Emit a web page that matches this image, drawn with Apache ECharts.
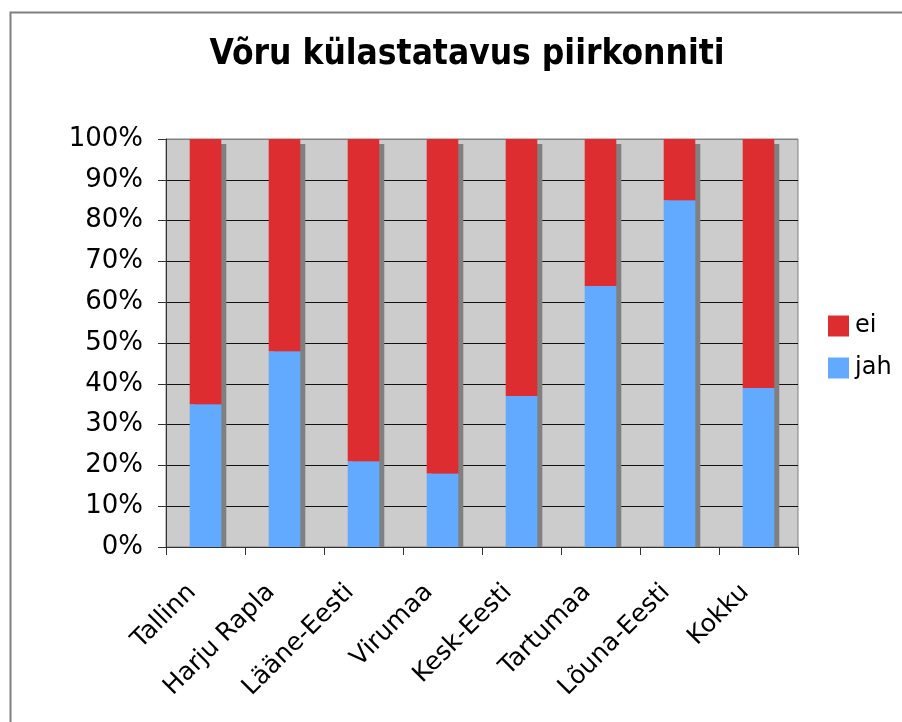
<!DOCTYPE html>
<html>
<head>
<meta charset="utf-8">
<script src="https://cdn.jsdelivr.net/npm/echarts@6/dist/echarts.min.js"></script>
<style>html,body{margin:0;padding:0;background:#fff}#c{width:902px;height:722px}</style>
</head>
<body>
<div id="c"></div>
<script>
const categories = ['Tallinn', 'Harju Rapla', 'Lääne-Eesti', 'Virumaa', 'Kesk-Eesti', 'Tartumaa', 'Lõuna-Eesti', 'Kokku'];
const jah = [35, 48, 21, 18, 37, 64, 85, 39];
const ei = [65, 52, 79, 82, 63, 36, 15, 61];
const totals = [100, 100, 100, 100, 100, 100, 100, 100];
const yTicks = [0, 10, 20, 30, 40, 50, 60, 70, 80, 90, 100];

const chart = echarts.init(document.getElementById('c'), null, {renderer: 'canvas'});
const font = 'DejaVu Sans, Verdana, sans-serif';
const barRatio = 0.4;
const gridColors = yTicks.map(v => v === 100 ? '#808080' : '#111');

chart.setOption({
  animation: false,
  backgroundColor: '#ffffff',
  title: {
    text: 'Võru külastatavus piirkonniti',
    left: 462, top: 32, textAlign: 'center',
    textStyle: {fontFamily: 'DejaVu Sans Condensed, DejaVu Sans, sans-serif', fontWeight: 'bold', fontSize: 35, color: '#000'}
  },
  graphic: [{
    type: 'rect', left: 8, top: 10, z: -10,
    shape: {x: 0, y: 0, width: 1000, height: 1000},
    style: {fill: 'none', stroke: '#808080', lineWidth: 2}
  }],
  legend: {
    data: ['ei', 'jah'],
    orient: 'vertical',
    left: 828, top: 314,
    icon: 'rect', itemWidth: 21, itemHeight: 21, itemGap: 18,
    textStyle: {fontFamily: font, fontSize: 24, color: '#000', padding: [0, 0, 0, 1]},
    padding: 0
  },
  grid: {
    left: 166, right: 104, top: 139, bottom: 175,
    show: true, backgroundColor: '#cccccc', borderColor: '#808080', borderWidth: 1
  },
  xAxis: {
    type: 'category', data: categories,
    axisLine: {lineStyle: {color: '#333', width: 1}},
    axisTick: {show: true, length: 8, lineStyle: {color: '#333'}},
    axisLabel: {rotate: 45, fontFamily: font, fontSize: 25, color: '#000', margin: 28, interval: 0,
      padding: [0, 19, 0, 0]}
  },
  yAxis: {
    type: 'value', min: 0, max: 100, interval: 10,
    axisLine: {show: true, lineStyle: {color: '#333', width: 1}},
    axisTick: {show: true, length: 8, lineStyle: {color: '#333'}},
    splitLine: {show: true, lineStyle: {color: gridColors, width: 1}},
    axisLabel: {fontFamily: font, fontSize: 26, color: '#000', margin: 23,
      formatter: v => yTicks.includes(v) ? v + '%' : ''}
  },
  series: [
    {
      name: 'shadow', type: 'custom', z: 1, silent: true,
      data: categories.map((c, i) => [i, totals[i]]),
      renderItem: function (params, api) {
        const top = api.coord([api.value(0), api.value(1)]);
        const bot = api.coord([api.value(0), 0]);
        const w = api.size([1, 0])[0] * barRatio;
        return {
          type: 'rect',
          shape: {x: top[0] - w / 2 + 5, y: top[1] + 5, width: w, height: bot[1] - top[1] - 5},
          style: {fill: '#808080'}
        };
      }
    },
    {
      name: 'jah', type: 'bar', stack: 's', data: jah, barWidth: (barRatio * 100) + '%', z: 2,
      itemStyle: {color: '#62aaff'}
    },
    {
      name: 'ei', type: 'bar', stack: 's', data: ei, z: 2,
      itemStyle: {color: '#dd2d31'}
    }
  ]
});
</script>
</body>
</html>
